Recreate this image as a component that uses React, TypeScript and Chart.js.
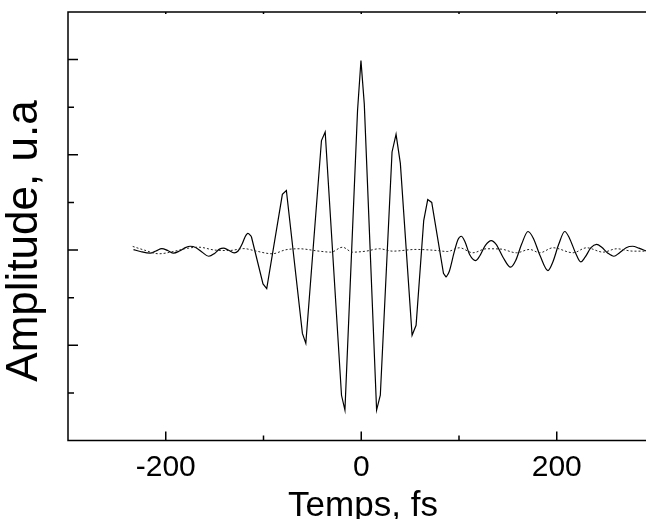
import React, { useEffect, useRef } from "react";
import { Chart, registerables } from "chart.js";

Chart.register(...registerables);

// Axis ranges (fs / arbitrary units)
const X_MIN = -300;
const X_MAX = 291.3;
const Y_MIN = -4;
const Y_MAX = 5;

const xTickValues = [-200, -100, 0, 100, 200];
const xTickLabels = ["-200", "", "0", "", "200"];
const yTickValues = [-3, -2, -1, 0, 1, 2, 3, 4];

const xTitle = "Temps, fs";
const yTitle = "Amplitude, u.a";

// Solid trace (amplitude vs time)
const solidTimes = [
  -233, -226, -216, -210, -204, -198, -192, -186, -180, -175, -169, -163, -156, -150, -145, -141,
  -136, -130, -126, -122, -119, -116, -112.5, -100.5, -96.7, -80.7, -76.6, -60.2, -56.7, -40.7,
  -36.9, -20.2, -16.7, -3.8, -0.3, 3.1, 15.7, 19.5, 31.5, 35.6, 40, 52, 56.1, 63.9, 68, 72.1,
  84.1, 86.8, 90, 95, 99, 102.3, 106, 111, 116.9, 121, 127, 133, 138, 145, 152.8, 158, 164,
  170.6, 176, 183, 191, 196, 202, 208.2, 213, 219, 224.6, 229, 235, 240.7, 246, 252, 258.5,
  264, 271, 277.6, 284, 291.3,
];
const solidValues = [
  0.01, -0.03, -0.065, -0.02, 0.03, -0.01, -0.065, -0.02, 0.05, 0.08, 0.05, -0.04, -0.13, -0.07, 0.02, 0.04,
  0.0, -0.06, -0.02, 0.12, 0.27, 0.35, 0.29, -0.71, -0.81, 1.17, 1.25, -1.75, -1.96, 2.3,
  2.48, -3.05, -3.36, 2.93, 3.98, 3.07, -3.36, -3.05, 2.06, 2.43, 1.82, -1.79, -1.58, 0.62, 1.06, 1.0,
  -0.49, -0.57, -0.45, -0.05, 0.22, 0.29, 0.18, -0.1, -0.22, -0.13, 0.1, 0.2, 0.12, -0.15, -0.36, -0.22, 0.12,
  0.39, 0.25, -0.12, -0.43, -0.25, 0.12, 0.39, 0.25, -0.05, -0.25, -0.15, 0.05, 0.12, 0.06, -0.06, -0.13,
  -0.06, 0.05, 0.08, 0.04, -0.02,
];
// The sharp central burst is drawn with straight segments, the small tails smoothly
const BURST_START = -112.5;
const BURST_END = 86.8;

// Dotted trace
const dottedTimes = [
  -233.8, -222, -207.2, -190, -180, -166.2, -150, -135.4, -120, -108, -91, -77.2, -63.6, -43.1, -31.1,
  -19.2, -8.9, 4.8, 18.5, 32.1, 56.1, 76.6, 88, 100.5, 114.2, 127.9, 143, 158.7, 172.3, 182.6, 196.2,
  216.7, 230.5, 247.5, 261.2, 278.3, 291.3,
];
const dottedValues = [
  0.076, 0.0, -0.078, -0.02, 0.03, 0.06, 0.0, -0.01, 0.03, -0.02, -0.078, 0.006, 0.027, -0.023, -0.044,
  0.06, -0.044, -0.023, 0.027, -0.023, 0.013, -0.008, -0.03, 0.048, -0.057, 0.027, 0.02, -0.057, 0.013, -0.057, 0.048,
  -0.057, 0.048, -0.044, 0.027, -0.023, -0.023,
];

const FONT = "'Liberation Sans', Arial, Helvetica, sans-serif";

const axesPlugin = {
  id: "axesFrame",
  afterDraw(chart: any) {
    const { ctx, chartArea, scales } = chart;
    const { left, right, top, bottom } = chartArea;
    const x = scales.x;
    const y = scales.y;
    ctx.save();
    ctx.strokeStyle = "#000";
    ctx.lineWidth = 1.5;
    ctx.beginPath();
    ctx.moveTo(right, top);
    ctx.lineTo(left, top);
    ctx.lineTo(left, bottom);
    ctx.lineTo(right, bottom);
    yTickValues.forEach((v) => {
      const py = y.getPixelForValue(v);
      const len = v % 2 === 0 ? 10 : 6;
      ctx.moveTo(left, py);
      ctx.lineTo(left + len, py);
    });
    xTickValues.forEach((v) => {
      const px = x.getPixelForValue(v);
      const len = v % 200 === 0 ? 9 : 5;
      ctx.moveTo(px, bottom);
      ctx.lineTo(px, bottom - len);
      ctx.moveTo(px, top);
      ctx.lineTo(px, top + 2);
    });
    ctx.stroke();

    // axis titles
    ctx.fillStyle = "#000";
    ctx.textAlign = "center";
    ctx.textBaseline = "alphabetic";
    ctx.font = `35px ${FONT}`;
    ctx.fillText(xTitle, 363, 516);

    ctx.translate(25, 241);
    ctx.rotate(-Math.PI / 2);
    ctx.textBaseline = "middle";
    ctx.font = `44px ${FONT}`;
    ctx.fillText(yTitle, 0, 0);
    ctx.restore();
  },
};

export default function App() {
  const ref = useRef<HTMLCanvasElement | null>(null);

  useEffect(() => {
    if (!ref.current) return;
    const solid = solidTimes.map((t, i) => ({ x: t, y: solidValues[i] }));
    const tailLeft = solid.filter((p) => p.x <= BURST_START);
    const burst = solid.filter((p) => p.x >= BURST_START && p.x <= BURST_END);
    const tailRight = solid.filter((p) => p.x >= BURST_END);
    const dotted = dottedTimes.map((t, i) => ({ x: t, y: dottedValues[i] }));
    const solidStyle = { borderColor: "#000", borderWidth: 1.2, pointRadius: 0, fill: false };
    const chart = new Chart(ref.current, {
      type: "line",
      data: {
        datasets: [
          {
            data: dotted,
            borderColor: "#222",
            borderWidth: 1,
            borderDash: [2, 2],
            pointRadius: 0,
            fill: false,
            cubicInterpolationMode: "monotone",
          },
          { ...solidStyle, data: tailLeft, cubicInterpolationMode: "monotone" },
          { ...solidStyle, data: burst, tension: 0 },
          { ...solidStyle, data: tailRight, cubicInterpolationMode: "monotone" },
        ],
      },
      options: {
        animation: false,
        responsive: false,
        events: [],
        layout: { padding: { top: 12, left: 0, right: 0, bottom: 0 } },
        plugins: { legend: { display: false }, tooltip: { enabled: false } },
        scales: {
          x: {
            type: "linear",
            min: X_MIN,
            max: X_MAX,
            grid: { display: false, drawTicks: false },
            border: { display: false },
            afterBuildTicks: (s: any) => {
              s.ticks = xTickValues.map((v) => ({ value: v }));
            },
            afterFit: (s: any) => {
              s.height = 78.5;
            },
            ticks: {
              autoSkip: false,
              maxRotation: 0,
              padding: 9,
              color: "#000",
              font: { family: FONT, size: 30 },
              callback: (v: any) => {
                const i = xTickValues.indexOf(Number(v));
                return i >= 0 ? xTickLabels[i] : "";
              },
            },
          },
          y: {
            type: "linear",
            min: Y_MIN,
            max: Y_MAX,
            grid: { display: false, drawTicks: false },
            border: { display: false },
            ticks: { display: false },
            afterFit: (s: any) => {
              s.width = 68;
            },
          },
        },
      },
      plugins: [axesPlugin],
    } as any);
    return () => chart.destroy();
  }, []);

  return (
    <div style={{ position: "fixed", left: 0, top: 0, width: 646, height: 519, overflow: "hidden", background: "#fff" }}>
      <canvas ref={ref} width={646} height={519} style={{ display: "block" }} />
    </div>
  );
}
